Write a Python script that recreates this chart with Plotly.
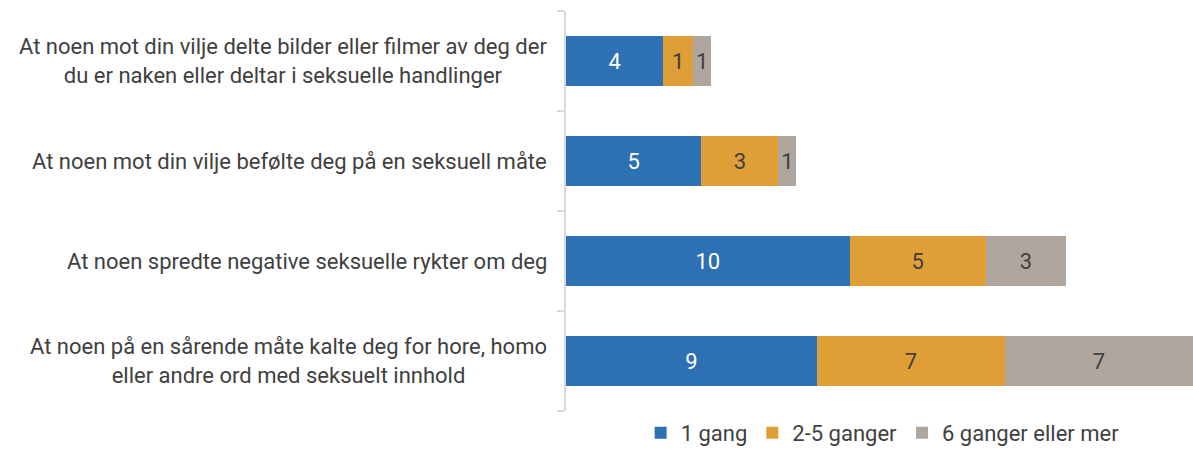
import plotly.graph_objects as go

# Survey items (top to bottom as shown)
categories = [
    "At noen mot din vilje delte bilder eller filmer av deg der<br>du er naken eller deltar i seksuelle handlinger",
    "At noen mot din vilje befølte deg på en seksuell måte",
    "At noen spredte negative seksuelle rykter om deg",
    "At noen på en sårende måte kalte deg for hore, homo<br>eller andre ord med seksuelt innhold",
]

series_names = ["1 gang", "2-5 ganger", "6 ganger eller mer"]

# Percent of respondents per frequency group
once = [3.56, 4.96, 10.39, 9.19]
two_to_five = [1.10, 2.82, 4.98, 6.89]
six_or_more = [0.66, 0.66, 2.96, 6.89]

series_values = [once, two_to_five, six_or_more]
series_colors = ["#2D70B4", "#E09E36", "#AEA69F"]
label_colors = ["#FFFFFF", "#404040", "#404040"]

FONT = "Roboto"
TEXT_COLOR = "#404040"
SIZE = 22

fig = go.Figure()
for name, vals, color, lab_color in zip(series_names, series_values, series_colors, label_colors):
    fig.add_trace(go.Bar(
        y=categories,
        x=vals,
        name=name,
        orientation="h",
        marker=dict(color=color, line=dict(width=0)),
        texttemplate="%{x:.0f}",
        textposition="inside",
        insidetextanchor="middle",
        textfont=dict(family=FONT, size=SIZE, color=lab_color),
        cliponaxis=False,
    ))

total_max = max(a + b + c for a, b, c in zip(once, two_to_five, six_or_more))

# Category labels drawn as centred multi-line text blocks, right edge next to the axis
for cat in categories:
    fig.add_annotation(
        x=0, xref="paper", xanchor="right", xshift=-17,
        y=cat, yref="y", yanchor="middle",
        text=cat, showarrow=False, align="center",
        font=dict(family=FONT, size=SIZE, color=TEXT_COLOR),
    )

fig.update_layout(
    barmode="stack",
    bargap=0.5,
    width=1193, height=449,
    margin=dict(l=566, r=0, t=11, b=38, autoexpand=False),
    plot_bgcolor="white",
    paper_bgcolor="white",
    font=dict(family=FONT, size=SIZE, color=TEXT_COLOR),
    uniformtext=dict(minsize=SIZE, mode="show"),
    showlegend=True,
    legend=dict(
        orientation="h",
        x=0.505, xanchor="center",
        y=-0.055, yanchor="middle",
        font=dict(family=FONT, size=SIZE, color=TEXT_COLOR),
        itemwidth=30,
        tracegroupgap=0,
        traceorder="normal",
    ),
    xaxis=dict(
        range=[0, total_max],
        visible=False,
        showgrid=False,
        zeroline=False,
        fixedrange=True,
    ),
    yaxis=dict(
        categoryorder="array",
        categoryarray=categories[::-1],
        showticklabels=False,
        showline=True,
        linecolor="#D9D9D9",
        linewidth=1.5,
        ticks="outside",
        tickson="boundaries",
        ticklen=7,
        tickcolor="#D9D9D9",
        tickwidth=1.5,
        showgrid=False,
        zeroline=False,
    ),
)

fig.write_html("out.html")
